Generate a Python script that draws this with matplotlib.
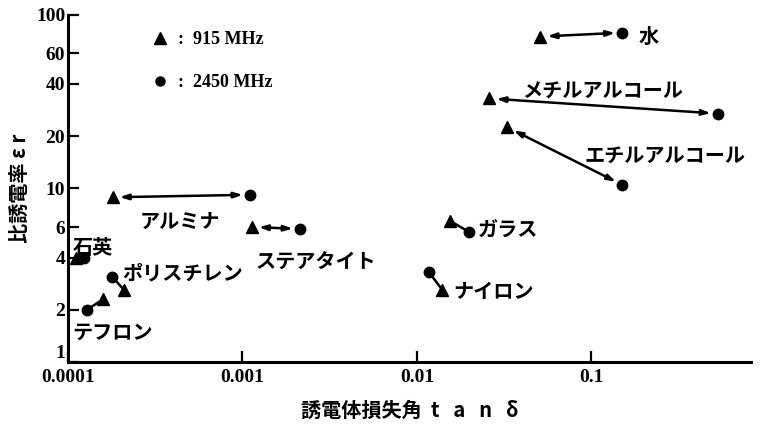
import matplotlib
matplotlib.use('Agg')
import matplotlib.pyplot as plt
from matplotlib.lines import Line2D
import numpy as np

plt.rcParams['font.family'] = ['Noto Sans CJK JP', 'DejaVu Sans']

# Dielectric properties of common materials at two microwave frequencies
materials = ['水', 'メチルアルコール', 'エチルアルコール', 'ガラス', 'ナイロン',
             'ステアタイト', 'アルミナ', 'ポリスチレン', '石英', 'テフロン']
tan_915 = [0.051, 0.026, 0.033, 0.0155, 0.014, 0.00113, 0.00018, 0.00021, 0.000111, 0.000159]
eps_915 = [75, 33, 22.5, 6.5, 2.6, 6.0, 8.9, 2.6, 4.0, 2.3]
tan_2450 = [0.15, 0.53, 0.15, 0.020, 0.0117, 0.00213, 0.0011, 0.000179, 0.000124, 0.000128]
eps_2450 = [79, 27, 10.5, 5.6, 3.3, 5.85, 9.2, 3.1, 4.0, 2.0]

x_ticks = [0.0001, 0.001, 0.01, 0.1]
x_ticklabels = ['0.0001', '0.001', '0.01', '0.1']
y_ticks = [1, 2, 4, 6, 10, 20, 40, 60, 100]
y_ticklabels = ['1', '2', '4', '6', '10', '20', '40', '60', '100']

# label anchor positions (axes fraction, left / center)
label_pos = [(0.835, 0.939), (0.665, 0.781), (0.757, 0.597), (0.600, 0.383),
             (0.564, 0.202), (0.275, 0.288), (0.105, 0.406), (0.079, 0.256),
             (0.007, 0.330), (0.006, 0.086)]

fig = plt.figure(figsize=(7.6, 4.25), dpi=100)
ax = fig.add_axes([0.0895, 0.148, 0.8985, 0.817])
ax.set_xscale('log')
ax.set_yscale('log')
ax.set_xlim(1e-4, 0.82)
ax.set_ylim(1, 100)

for s in ['top', 'right']:
    ax.spines[s].set_visible(False)
for s in ['left', 'bottom']:
    ax.spines[s].set_linewidth(2.2)

serif = dict(family='Liberation Serif', weight='bold', size=14)
ax.set_xticks(x_ticks)
ax.set_xticklabels(x_ticklabels, fontdict=serif)
ax.set_yticks(y_ticks)
ax.set_yticklabels(y_ticklabels, fontdict=serif)
ax.yaxis.set_minor_locator(matplotlib.ticker.NullLocator())
ax.xaxis.set_minor_locator(matplotlib.ticker.NullLocator())
ax.tick_params(axis='both', direction='in', length=8, width=1.6)
ax.tick_params(axis='x', pad=5)
ax.tick_params(axis='y', pad=2)
# lift the lowest y label clear of the x labels
ax.get_yticklabels()[0].set_verticalalignment('bottom')

# connecting arrows between the two frequencies
for x1, y1, x2, y2 in zip(tan_915, eps_915, tan_2450, eps_2450):
    p1 = ax.transData.transform((x1, y1))
    p2 = ax.transData.transform((x2, y2))
    dist = np.hypot(*(p2 - p1))
    if dist > 35:
        style = '<|-|>,head_length=0.5,head_width=0.16'
        shrink = 5
    else:
        style = '-'
        shrink = 0
    ax.annotate('', xy=(x2, y2), xytext=(x1, y1),
                arrowprops=dict(arrowstyle=style, lw=1.8, color='black',
                                shrinkA=shrink, shrinkB=shrink))

ax.plot(tan_915, eps_915, linestyle='none', marker='^', markersize=9,
        color='black', clip_on=False, zorder=3)
ax.plot(tan_2450, eps_2450, linestyle='none', marker='o', markersize=7.5,
        color='black', clip_on=False, zorder=3)

for name, (fx, fy) in zip(materials, label_pos):
    ax.text(fx, fy, name, transform=ax.transAxes, ha='left', va='center',
            fontsize=14.5, fontweight='bold', color='black')

handles = [Line2D([], [], linestyle='none', marker='^', markersize=8, color='black'),
           Line2D([], [], linestyle='none', marker='o', markersize=6.5, color='black')]
ax.legend(handles, [':  915 MHz', ':  2450 MHz'], loc='upper left',
          bbox_to_anchor=(0.098, 1.0), frameon=False, handlelength=1.0,
          handletextpad=0.5, labelspacing=1.45,
          prop=dict(family='Liberation Serif', weight='bold', size=13))

ax.set_xlabel('誘電体損失角  t   a   n   δ', fontsize=14.5, fontweight='bold', labelpad=10)
ax.set_ylabel('比誘電率 ε r', fontsize=14.5, fontweight='bold', labelpad=4)

fig.savefig('out.png', dpi=100)
